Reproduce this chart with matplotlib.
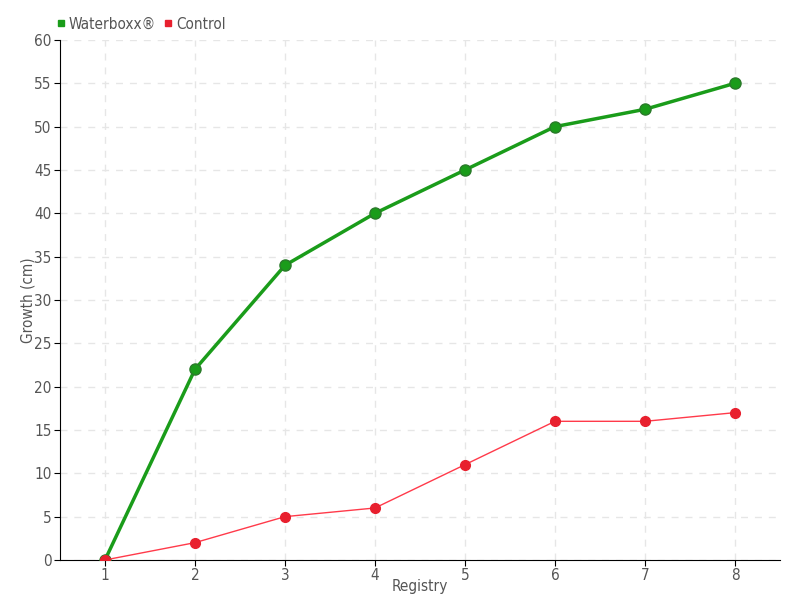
import matplotlib
matplotlib.use("Agg")
import matplotlib.pyplot as plt
from matplotlib.lines import Line2D

registry = [1, 2, 3, 4, 5, 6, 7, 8]
waterboxx = [0, 22, 34, 40, 45, 50, 52, 55]
control = [0, 2, 5, 6, 11, 16, 16, 17]
yticks = list(range(0, 61, 5))

plt.rcParams['font.family'] = ['DejaVu Sans']
plt.rcParams['font.stretch'] = 'condensed'
fig = plt.figure(figsize=(8, 6), dpi=100)
ax = fig.add_axes([0.075, 0.0667, 0.9, 0.8667])

ax.plot(registry, waterboxx, color='#1a9c1a', lw=2.5, marker='o', ms=8,
        mfc='#1a9c1a', mec='#2a7a2a', mew=1, zorder=3)
ax.plot(registry, control, color='#ff3a4a', lw=1, marker='o', ms=7,
        mfc='#e8202e', mec='#e8202e', zorder=4)

ax.set_xlim(0.5, 8.5)
ax.set_ylim(0, 60)
ax.set_xticks(registry)
ax.set_yticks(yticks)
ax.grid(True, color='#e6e6e6', ls=(0, (5, 5)), lw=1)
ax.set_axisbelow(True)
for s in ['top', 'right']:
    ax.spines[s].set_visible(False)
ax.spines['left'].set_color('black')
ax.spines['bottom'].set_color('black')
ax.tick_params(axis='both', colors='black', labelcolor='#555555', labelsize=11, length=4, pad=2)
ax.set_xlabel('Registry', color='#555555', fontsize=11, labelpad=-3)
ax.set_ylabel('Growth (cm)', color='#555555', fontsize=11, labelpad=-1)

handles = [Line2D([], [], ls='none', marker='s', ms=5, color='#1a9c1a'),
           Line2D([], [], ls='none', marker='s', ms=5, color='#e8202e')]
leg = fig.legend(handles, ['Waterboxx®', 'Control'], loc='upper left',
                 bbox_to_anchor=(0.05, 0.995), ncol=2, frameon=False,
                 handletextpad=0.0, columnspacing=0.3, fontsize=11,
                 handlelength=1.0)
for t in leg.get_texts():
    t.set_color('#555555')

fig.savefig('out.png', dpi=100)
